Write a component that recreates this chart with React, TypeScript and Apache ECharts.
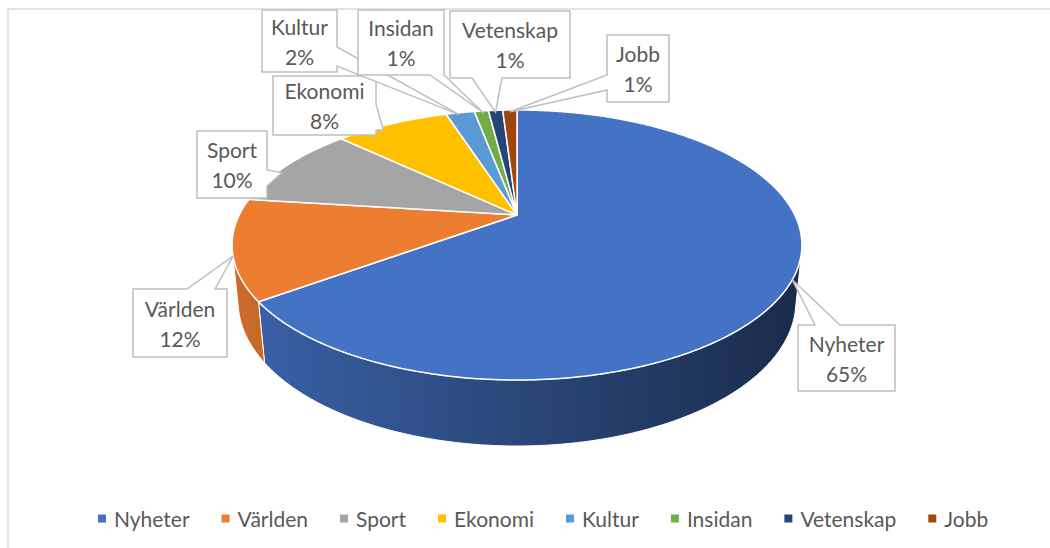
import React, { useEffect, useRef } from "react";
import * as echarts from "echarts";

const categories = ["Nyheter", "Världen", "Sport", "Ekonomi", "Kultur", "Insidan", "Vetenskap", "Jobb"];
const values = [65, 12, 10, 8, 2, 1, 1, 1];
const colors = ["#4472C4", "#ED7D31", "#A5A5A5", "#FFC000", "#5B9BD5", "#70AD47", "#264478", "#9E480E"];

// callout layout (pixels): box [x0,y0,x1,y1], side of pointer, base span on that side,
// anchor position along the slice (t) and radius fraction (r)
const callouts: Record<string, any> = {
  Nyheter: { box: [798, 325, 895, 391], side: "top", base: [815, 840], t: 0.5, r: 1 },
  Världen: { box: [133, 289, 227, 357], side: "top", base: [187, 215], t: 0.43, r: 1 },
  Sport: { box: [197, 131, 267, 198], side: "right", base: [170, 186], t: 0.39, r: 0.98 },
  Ekonomi: { box: [273, 76, 376, 135], side: "right", base: [104, 130], t: 0.375, r: 0.96 },
  Kultur: { box: [262, 10, 337, 72], side: "right", base: [47, 66], t: 0.43, r: 0.98 },
  Insidan: { box: [358, 10, 444, 75], side: "bottom", base: [430, 444], t: 0.6, r: 0.98 },
  Vetenskap: { box: [450, 11, 570, 78], side: "bottom", base: [472, 502], t: 0.47, r: 0.98 },
  Jobb: { box: [607, 35, 669, 102], side: "left", base: [75, 90], t: 0.5, r: 0.98 },
};

// perspective projection of the 3D pie
const CX = 517, CY = 215; // screen position of the pie centre
const F = 1250; // focal scale
const T = 0.462; // tan of the tilt
const K = 4.5; // camera distance (pie radii, over cos tilt)
const H = 0.202; // thickness in pie radii
const SIL = (() => {
  const c2 = 1 / (1 + T * T);
  const c = -1 / (K * c2);
  return (Math.acos(c) * 180) / Math.PI; // silhouette angle from top
})();
const FONT = "Lato, 'Open Sans', sans-serif";

function pt(deg: number, r = 1, y = 0): number[] {
  const a = (deg * Math.PI) / 180;
  const X = r * Math.sin(a);
  const Z = r * Math.cos(a);
  const den = K + Z - y * T;
  return [CX + (F * X) / den, CY - (F * (Z * T + y)) / den];
}

function arc(a: number, b: number, r = 1, y = 0): number[][] {
  const pts: number[][] = [];
  const n = Math.max(2, Math.ceil(Math.abs(b - a) / 0.5));
  for (let k = 0; k <= n; k++) pts.push(pt(a + ((b - a) * k) / n, r, y));
  return pts;
}

function shade(hex: string, f: number): string {
  const n = parseInt(hex.slice(1), 16);
  const r = Math.round(((n >> 16) & 255) * f);
  const g = Math.round(((n >> 8) & 255) * f);
  const b = Math.round((n & 255) * f);
  return `rgb(${r},${g},${b})`;
}

function calloutPoints(c: any, A: number[]): number[][] {
  const [x0, y0, x1, y1] = c.box;
  const [p, q] = c.base;
  const pts: number[][] = [[x0, y0]];
  if (c.side === "top") pts.push([p, y0], A, [q, y0]);
  pts.push([x1, y0]);
  if (c.side === "right") pts.push([x1, p], A, [x1, q]);
  pts.push([x1, y1]);
  if (c.side === "bottom") pts.push([q, y1], A, [p, y1]);
  pts.push([x0, y1]);
  if (c.side === "left") pts.push([x0, q], A, [x0, p]);
  return pts;
}

export default function App() {
  const ref = useRef<HTMLDivElement>(null);
  useEffect(() => {
    if (!ref.current) return;
    const chart = echarts.init(ref.current, null, { renderer: "svg" });
    const total = values.reduce((s, v) => s + v, 0);
    const cum: number[] = [0];
    values.forEach((v) => cum.push(cum[cum.length - 1] + v));

    const series = categories.map((name, i) => ({
      type: "custom",
      name,
      coordinateSystem: "none",
      itemStyle: { color: colors[i] },
      data: [[values[i]]],
      renderItem: (params: any, api: any) => {
        const v = api.value(0);
        const start = (cum[i] / total) * 360;
        const end = start + (v / total) * 360;
        const color = colors[i];
        const children: any[] = [];
        // side face (visible front part only)
        const a = Math.max(start, SIL), b = Math.min(end, 360 - SIL);
        if (a < b) {
          const pts = [...arc(a, b, 1, 0), ...arc(b, a, 1, -H)];
          children.push({
            type: "polygon",
            z2: 1,
            shape: { points: pts },
            style: {
              fill: new echarts.graphic.LinearGradient(232, 0, 803, 0, [
                { offset: 0, color: shade(color, 0.86) },
                { offset: 0.5, color: shade(color, 0.62) },
                { offset: 1, color: shade(color, 0.38) },
              ], true),
              stroke: "#ffffff",
              lineWidth: 1,
              lineJoin: "round",
            },
          });
        }
        // top face
        children.push({
          type: "polygon",
          z2: 2,
          shape: { points: [pt(0, 0), ...arc(start, end)] },
          style: { fill: color, stroke: "#ffffff", lineWidth: 1.5, lineJoin: "round" },
        });
        // callout
        const c = callouts[name];
        if (c) {
          const A = pt(start + (end - start) * c.t, c.r);
          children.push({
            type: "polygon",
            z2: 3,
            shape: { points: calloutPoints(c, A) },
            style: { fill: "#ffffff", stroke: "#bfbfbf", lineWidth: 1.5 },
          });
          const tx = (c.box[0] + c.box[2]) / 2;
          const ty = (c.box[1] + c.box[3]) / 2;
          const pct = Math.round((v / total) * 100) + "%";
          children.push({
            type: "text",
            z2: 4,
            style: {
              text: name + "\n" + pct,
              x: tx,
              y: ty,
              align: "center",
              verticalAlign: "middle",
              fill: "#595959",
              fontSize: 21,
              fontFamily: FONT,
              lineHeight: 30,
            },
          });
        }
        return { type: "group", children };
      },
    }));

    chart.setOption({
      animation: false,
      backgroundColor: "#ffffff",
      graphic: [
        {
          type: "rect",
          shape: { x: 8, y: 9, width: 1100, height: 600 },
          style: { fill: "none", stroke: "#d9d9d9", lineWidth: 1.5 },
          silent: true,
        },
      ],
      legend: {
        data: categories,
        left: 93,
        top: 503,
        icon: "rect",
        itemWidth: 8,
        itemHeight: 8,
        itemGap: 32,
        textStyle: { fontFamily: FONT, fontSize: 21, color: "#595959", padding: [0, 0, 0, 3] },
      },
      series,
    } as any);
    return () => chart.dispose();
  }, []);
  return <div ref={ref} style={{ position: "fixed", left: 0, top: 0, width: 1050, height: 548 }} />;
}
